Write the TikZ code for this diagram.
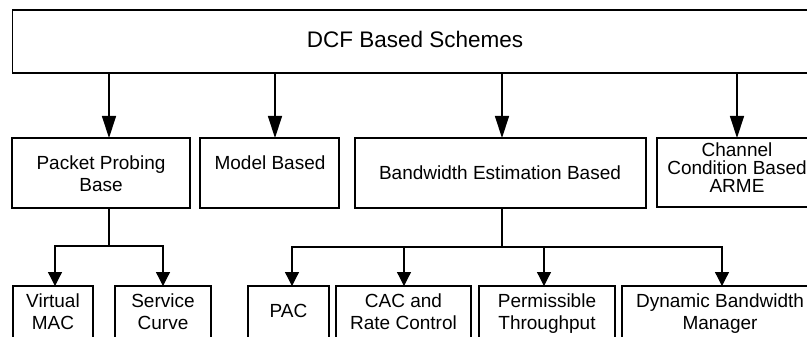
\documentclass[tikz,border=0pt]{standalone}
\usepackage{fontspec}
\setmainfont{Liberation Sans}
\usetikzlibrary{arrows.meta}
\begin{document}
\begin{tikzpicture}[x=1pt,y=-1pt,
  box/.style={draw, line width=1.3pt, inner sep=0pt, outer sep=0pt, anchor=north west},
  lbl/.style={anchor=base, inner sep=0pt, font=\fontsize{19}{22}\selectfont},
  ttl/.style={anchor=base, inner sep=0pt, font=\fontsize{22.5}{26}\selectfont},
  conn/.style={line width=1.3pt},
  arrbig/.style={line width=1.3pt, -{Triangle[length=22pt,width=14pt]}},
  arrsmall/.style={line width=1.3pt, -{Triangle[length=14pt,width=14pt]}}]
\useasboundingbox (0,0) rectangle (807,337);
\fill[white] (0,0) rectangle (807,337);
% boxes
\node[box, minimum width=806pt, minimum height=63pt] (top) at (12.5,10) {};
\node[box, minimum width=178pt, minimum height=70pt] (pp) at (12,138) {};
\node[box, minimum width=139pt, minimum height=70pt] (mb) at (200,138) {};
\node[box, minimum width=291pt, minimum height=70pt] (bw) at (355,138) {};
\node[box, minimum width=161pt, minimum height=69pt] (cc) at (657,138) {};
\node[box, minimum width=80pt, minimum height=64pt] (vm) at (13,286) {};
\node[box, minimum width=96pt, minimum height=64pt] (sc) at (115,286) {};
\node[box, minimum width=81pt, minimum height=64pt] (pac) at (248,286) {};
\node[box, minimum width=135pt, minimum height=64pt] (cac) at (336,286) {};
\node[box, minimum width=136pt, minimum height=64pt] (pt) at (479,286) {};
\node[box, minimum width=196pt, minimum height=64pt] (dbm) at (622,286) {};
% texts
\node[ttl] (ttop) at (415,48) {DCF Based Schemes};
\node[lbl] (tpp1) at (101,169) {Packet Probing};
\node[lbl] (tpp2) at (101,191) {Base};
\node[lbl] (tmb) at (270,169) {Model Based};
\node[lbl] (tbw) at (500,179) {Bandwidth Estimation Based};
\node[lbl] (tcc1) at (737,157) {Channel};
\node[lbl] (tcc2) at (737,175) {Condition Based};
\node[lbl] (tcc3) at (737,193) {ARME};
\node[lbl] (tvm1) at (53,307) {Virtual};
\node[lbl] (tvm2) at (53,329) {MAC};
\node[lbl] (tsc1) at (163,307) {Service};
\node[lbl] (tsc2) at (163,329) {Curve};
\node[lbl] (tpac) at (288.5,317) {PAC};
\node[lbl] (tcac1) at (403.5,307) {CAC and};
\node[lbl] (tcac2) at (403.5,329) {Rate Control};
\node[lbl] (tpt1) at (547,307) {Permissible};
\node[lbl] (tpt2) at (547,329) {Throughput};
\node[lbl] (tdbm1) at (720,307) {Dynamic Bandwidth};
\node[lbl] (tdbm2) at (720,329) {Manager};
% connector columns
\coordinate (c1) at (109,0);
\coordinate (c2) at (275,0);
\coordinate (c3) at (502,0);
\coordinate (c4) at (737,0);
\coordinate (d1) at (55,0);
\coordinate (d2) at (163,0);
\coordinate (d3) at (292,0);
\coordinate (d4) at (404,0);
\coordinate (d5) at (544,0);
\coordinate (d6) at (722,0);
\coordinate (ppj) at (109,246);
\coordinate (bwj) at (502,247);
% top arrows
\draw[arrbig] (c1 |- top.south) -- (c1 |- pp.north);
\draw[arrbig] (c2 |- top.south) -- (c2 |- mb.north);
\draw[arrbig] (c3 |- top.south) -- (c3 |- bw.north);
\draw[arrbig] (c4 |- top.south) -- (c4 |- cc.north);
% packet probing branch
\draw[conn] (c1 |- pp.south) -- (ppj);
\draw[arrsmall] (ppj) -| (d1 |- vm.north);
\draw[arrsmall] (ppj) -| (d2 |- sc.north);
% bandwidth branch
\draw[conn] (c3 |- bw.south) -- (bwj);
\draw[arrsmall] (bwj) -| (d3 |- pac.north);
\draw[arrsmall] (bwj) -| (d4 |- cac.north);
\draw[arrsmall] (bwj) -| (d5 |- pt.north);
\draw[arrsmall] (bwj) -| (d6 |- dbm.north);
\end{tikzpicture}
\end{document}
